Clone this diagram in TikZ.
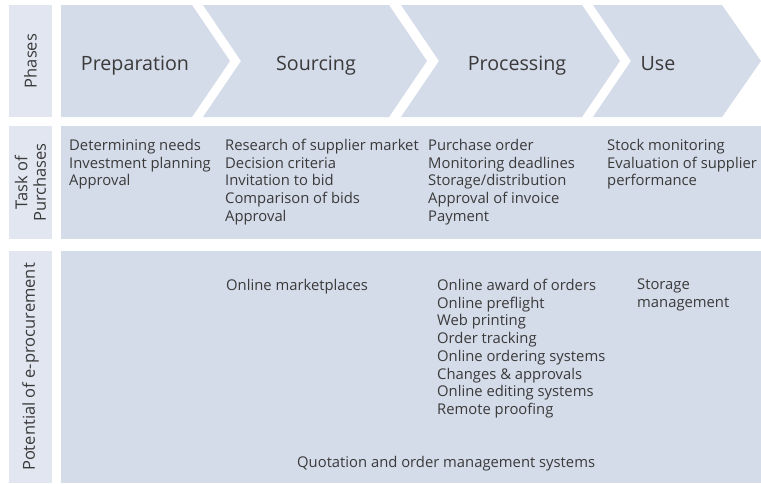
\documentclass[tikz,border=0pt]{standalone}
\usepackage{fontspec}
\setmainfont{Open Sans}
\usepackage{tikz}
\usetikzlibrary{positioning}
\definecolor{ProcBlue}{HTML}{D4DBE9}
\definecolor{ProcPale}{HTML}{E2E6F1}
\definecolor{ProcInk}{HTML}{3A3A3A}
\tikzset{
  band/.style={fill=ProcBlue, draw=none},
  header/.style={fill=ProcPale, draw=none},
  rowtitle/.style={rotate=90, align=center, text=ProcInk, inner sep=0pt,
    font=\fontsize{16.5}{18.5}\selectfont},
  phasename/.style={anchor=base, text=ProcInk, inner sep=0pt,
    font=\fontsize{19.7}{22}\selectfont},
  tasklist/.style={anchor=north west, inner sep=0pt, align=left, text=ProcInk,
    font=\fontsize{14.8}{17.7}\selectfont}
}

\begin{document}
\begin{tikzpicture}[x=1pt, y=-1pt]
  \useasboundingbox (0,0) rectangle (761,483);
  % row titles
  \fill[header] (9,5) rectangle (52,117);
  \fill[header] (9,126) rectangle (52,239);
  \fill[header] (9,251) rectangle (52,483);
  \node[rowtitle] (phases) at (30.5,61) {Phases};
  \node[rowtitle] (tasks) at (30.5,182.5) {Task of\\Purchases};
  \node[rowtitle] (potential) at (30.5,367) {Potential of e-procurement};
  % phase chevrons
  \fill[band] (61,5) -- (192,5) -- (230,61) -- (192,117) -- (61,117) -- cycle;
  \fill[band] (203,5) -- (389,5) -- (427,61) -- (389,117) -- (203,117) -- (241,61) -- cycle;
  \fill[band] (401,5) -- (582,5) -- (620,61) -- (582,117) -- (401,117) -- (439,61) -- cycle;
  \fill[band] (593,5) -- (722,5) -- (761,61) -- (722,117) -- (593,117) -- (631,61) -- cycle;
  \node[phasename] (preparation) at (135,70) {Preparation};
  \node[phasename] (sourcing) at (316,70) {Sourcing};
  \node[phasename] (processing) at (517,70) {Processing};
  \node[phasename] (use) at (658,70) {Use};
  % task rows
  \fill[band] (61,126) rectangle (761,239);
  \fill[band] (61,251) rectangle (761,483);
  \node[tasklist] (prepTasks) at (69,139) {Determining needs\\Investment planning\\Approval};
  \node[tasklist] (srcTasks) at (225,139) {Research of supplier market\\Decision criteria\\Invitation to bid\\Comparison of bids\\Approval};
  \node[tasklist] (procTasks) at (428,139) {Purchase order\\Monitoring deadlines\\Storage/distribution\\Approval of invoice\\Payment};
  \node[tasklist] (useTasks) at (607,139) {Stock monitoring\\Evaluation of supplier\\performance};
  % e-procurement potential
  \node[tasklist] (srcOnline) at (226,279) {Online marketplaces};
  \node[tasklist] (procOnline) at (437,279) {Online award of orders\\Online preflight\\Web printing\\Order tracking\\Online ordering systems\\Changes \& approvals\\Online editing systems\\Remote proofing};
  \node[tasklist] (useOnline) at (637,279) {Storage\\management};
  \node[tasklist] (quotation) at (297,456) {Quotation and order management systems};
\end{tikzpicture}
\end{document}
